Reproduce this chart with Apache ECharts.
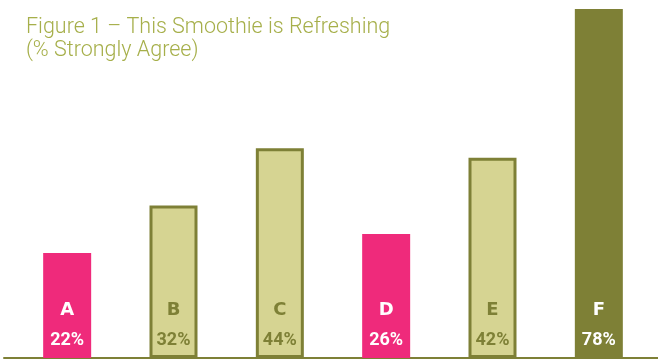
<!DOCTYPE html>
<html><head><meta charset="utf-8">
<script src="https://cdn.jsdelivr.net/npm/echarts@6/dist/echarts.min.js"></script>
<style>html,body{margin:0;padding:0;background:#fff}#c{width:658px;height:360px}</style>
</head><body><div id="c"></div>
<script>
const categories = ['A','B','C','D','E','F'];
const values = [22, 32, 44, 26, 42, 78];
const styles = ['pink','pale','pale','pink','pale','dark'];

const PINK = '#EF2A7B', PALE = '#D6D492', OLIVE = '#7E8036', TITLE = '#A6AF4A';

const data = values.map((v, i) => {
  const s = styles[i];
  const textColor = s === 'pale' ? OLIVE : '#ffffff';
  return {
    value: v,
    itemStyle: s === 'pink' ? {color: PINK, borderWidth: 0}
             : s === 'pale' ? {color: PALE, borderColor: OLIVE, borderWidth: 3}
             : {color: OLIVE, borderWidth: 0},
    label: {
      rich: {
        a: {fontFamily: 'DejaVu Sans', fontWeight: 'bold', fontSize: 18, color: textColor, lineHeight: 30},
        b: {fontFamily: 'Roboto', fontWeight: 'bold', fontSize: 18, color: textColor, lineHeight: 30}
      }
    }
  };
});

const chart = echarts.init(document.getElementById('c'), null, {renderer: 'canvas'});
chart.setOption({
  animation: false,
  title: {
    text: 'Figure 1 – This Smoothie is Refreshing\n(% Strongly Agree)',
    left: 21, top: 11,
    textStyle: {fontFamily: 'Roboto', fontWeight: 300, fontSize: 21.5, color: TITLE, lineHeight: 23}
  },
  grid: [
    {left: 14, right: 6, top: 9, bottom: 2},
    {left: 4, right: 0, top: 9, bottom: 2}
  ],
  xAxis: [
    {type: 'category', data: categories, gridIndex: 0,
     axisLine: {show: false}, axisTick: {show: false}, axisLabel: {show: false}},
    {type: 'value', gridIndex: 1, min: 0, max: 1,
     axisLine: {show: true, onZero: false, lineStyle: {color: OLIVE, width: 2}},
     axisTick: {show: false}, axisLabel: {show: false}, splitLine: {show: false}}
  ],
  yAxis: [
    {type: 'value', gridIndex: 0, min: 0, max: 73.2, show: false, splitLine: {show: false}},
    {type: 'value', gridIndex: 1, min: 0, max: 1, show: false, splitLine: {show: false}}
  ],
  series: [{
    type: 'bar',
    xAxisIndex: 0, yAxisIndex: 0,
    barWidth: 48,
    clip: true,
    data: data,
    label: {
      show: true,
      position: 'insideBottom',
      distance: 3,
      formatter: p => '{a|' + p.name + '}\n{b|' + p.value + '%}'
    }
  }]
});
</script></body></html>
